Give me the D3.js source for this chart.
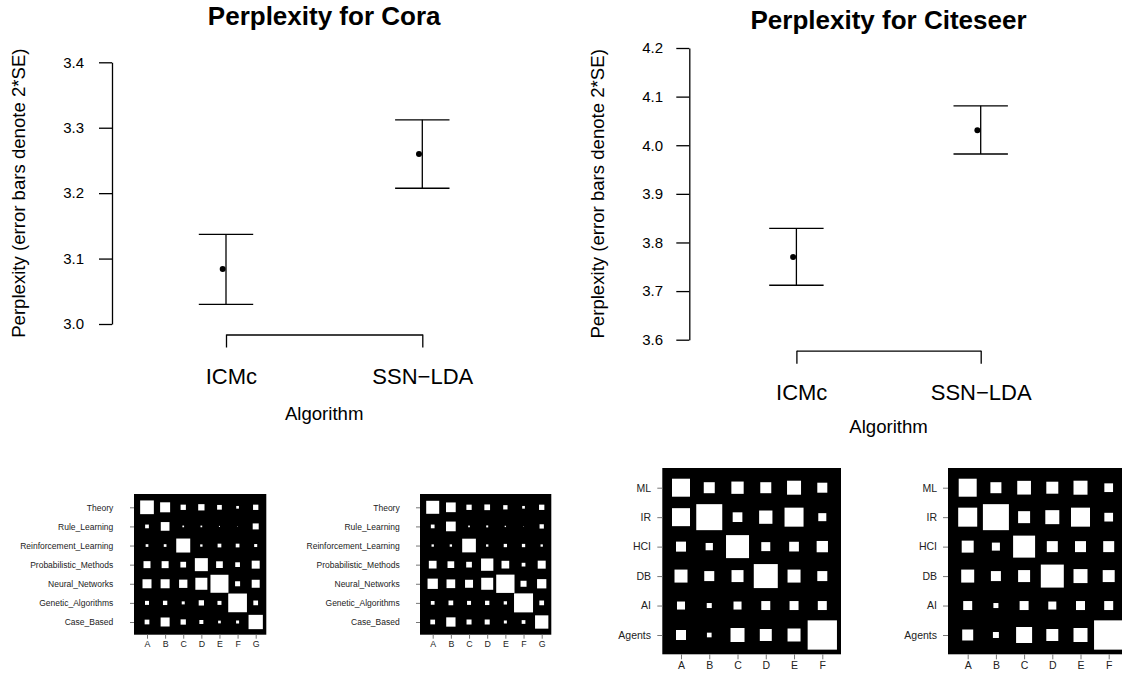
<!DOCTYPE html>
<html><head><meta charset="utf-8">
<script src="https://cdn.jsdelivr.net/npm/d3@7"></script>
<style>
html,body{margin:0;padding:0;background:#fff;}
svg{display:block;font-family:"Liberation Sans",Arial,Helvetica,sans-serif;}
</style></head><body>
<svg id="chart" width="1122" height="675"></svg>
<script>
// ---------- data ----------
const algorithms = ["ICMc", "SSN\u2212LDA"];

const coraMean  = [3.084, 3.260];
const coraLower = [3.030, 3.2075];
const coraUpper = [3.137, 3.312];
const coraTicks = [3.0, 3.1, 3.2, 3.3, 3.4];

const citeseerMean  = [3.770, 4.031];
const citeseerLower = [3.712, 3.982];
const citeseerUpper = [3.829, 4.081];
const citeseerTicks = [3.6, 3.7, 3.8, 3.9, 4.0, 4.1, 4.2];

const coraClasses = ["Theory", "Rule_Learning", "Reinforcement_Learning", "Probabilistic_Methods",
                     "Neural_Networks", "Genetic_Algorithms", "Case_Based"];
const coraLetters = ["A", "B", "C", "D", "E", "F", "G"];

const coraMatrixA = [
  [0.514, 0.274, 0.077, 0.109, 0.061, 0.020, 0.077],
  [0.038, 0.207, 0.008, 0.008, 0.003, 0.001, 0.099],
  [0.020, 0.020, 0.537, 0.015, 0.038, 0.038, 0.025],
  [0.134, 0.134, 0.089, 0.463, 0.123, 0.061, 0.175],
  [0.222, 0.222, 0.189, 0.395, 0.888, 0.069, 0.175],
  [0.044, 0.051, 0.025, 0.077, 0.044, 0.959, 0.061],
  [0.061, 0.222, 0.077, 0.044, 0.020, 0.025, 0.561]
];
const coraMatrixB = [
  [0.463, 0.258, 0.077, 0.089, 0.051, 0.020, 0.077],
  [0.038, 0.258, 0.008, 0.011, 0.005, 0.001, 0.051],
  [0.015, 0.015, 0.514, 0.015, 0.030, 0.030, 0.015],
  [0.163, 0.123, 0.089, 0.415, 0.163, 0.038, 0.175],
  [0.291, 0.207, 0.175, 0.395, 0.918, 0.099, 0.237],
  [0.038, 0.061, 0.044, 0.051, 0.030, 0.990, 0.061],
  [0.061, 0.237, 0.069, 0.069, 0.025, 0.038, 0.485]
];

const citeseerClasses = ["ML", "IR", "HCI", "DB", "AI", "Agents"];
const citeseerLetters = ["A", "B", "C", "D", "E", "F"];

const citeseerMatrixA = [
  [0.372, 0.139, 0.174, 0.139, 0.225, 0.115],
  [0.372, 0.777, 0.108, 0.203, 0.415, 0.074],
  [0.115, 0.061, 0.608, 0.093, 0.108, 0.147],
  [0.194, 0.115, 0.165, 0.662, 0.194, 0.115],
  [0.074, 0.029, 0.074, 0.093, 0.093, 0.093],
  [0.115, 0.025, 0.225, 0.165, 0.194, 0.986]
];
const citeseerMatrixB = [
  [0.372, 0.139, 0.216, 0.165, 0.225, 0.087],
  [0.415, 0.777, 0.165, 0.225, 0.415, 0.087],
  [0.165, 0.074, 0.556, 0.139, 0.139, 0.139],
  [0.194, 0.115, 0.165, 0.608, 0.225, 0.165],
  [0.093, 0.029, 0.093, 0.074, 0.093, 0.093],
  [0.139, 0.041, 0.294, 0.165, 0.225, 0.986]
];

// ---------- drawing ----------
const svg = d3.select("#chart");
const FONT = '"Liberation Sans",Arial,Helvetica,sans-serif';

function perplexityPlot(cfg) {
  const g = svg.append("g");
  const x = d3.scalePoint().domain(algorithms).range([cfg.x0, cfg.x1]).padding(0);
  const y = d3.scaleLinear().domain(cfg.domain).range([cfg.yBottom, cfg.yTop]);
  const mid = (cfg.x0 + cfg.x1) / 2;

  // y axis
  const ya = g.append("g").attr("transform", `translate(${cfg.axisX},0)`)
    .call(d3.axisLeft(y).tickValues(cfg.ticks).tickFormat(d3.format(".1f"))
      .tickSizeInner(13).tickSizeOuter(0).tickPadding(cfg.tickPad));
  ya.attr("font-family", FONT);
  ya.selectAll("text").attr("font-size", 15).attr("fill", "#000");
  ya.selectAll("line,path").attr("stroke", "#000").attr("stroke-width", 1.3);

  // x "bracket" axis
  const xa = g.append("g").attr("transform", `translate(0,${cfg.bracketY})`)
    .call(d3.axisBottom(x).tickSizeInner(13).tickSizeOuter(0).tickPadding(20.4));
  xa.attr("font-family", FONT);
  xa.selectAll("text").attr("font-size", 22).attr("fill", "#000")
    .attr("dx", d => d === algorithms[0] ? 4.8 : 0);
  xa.selectAll("line,path").attr("stroke", "#000").attr("stroke-width", 1.3);

  // error bars
  const idx = d3.range(algorithms.length);
  g.selectAll(".bar").data(idx).join("line")
    .attr("x1", i => x(algorithms[i])).attr("x2", i => x(algorithms[i]))
    .attr("y1", i => y(cfg.lower[i])).attr("y2", i => y(cfg.upper[i]))
    .attr("stroke", "#000").attr("stroke-width", 1.3);
  [cfg.lower, cfg.upper].forEach(arr => {
    g.selectAll(null).data(idx).join("line")
      .attr("x1", i => x(algorithms[i]) - 27.2).attr("x2", i => x(algorithms[i]) + 27.2)
      .attr("y1", i => y(arr[i])).attr("y2", i => y(arr[i]))
      .attr("stroke", "#000").attr("stroke-width", 1.3);
  });
  g.selectAll("circle").data(idx).join("circle")
    .attr("cx", i => x(algorithms[i]) - 3.3).attr("cy", i => y(cfg.mean[i]))
    .attr("r", 3).attr("fill", "#000");

  // title
  g.append("text").attr("x", mid).attr("y", cfg.titleY).attr("text-anchor", "middle")
    .attr("font-size", 26).attr("font-weight", "bold").attr("fill", "#000").text(cfg.title);
  // x label
  g.append("text").attr("x", mid).attr("y", cfg.xLabelY).attr("text-anchor", "middle")
    .attr("font-size", 18.6).attr("fill", "#000").text("Algorithm");
  // y label
  const ym = (cfg.yBottom + cfg.yTop) / 2;
  g.append("text").attr("transform", `translate(${cfg.yLabelX},${ym}) rotate(-90)`)
    .attr("text-anchor", "middle").attr("dy", "0.35em")
    .attr("font-size", 18.6).attr("fill", "#000").text("Perplexity (error bars denote 2*SE)");
}

perplexityPlot({
  title: "Perplexity for Cora", domain: [3.0, 3.4], ticks: coraTicks,
  mean: coraMean, lower: coraLower, upper: coraUpper,
  x0: 226, x1: 422.3, yBottom: 324, yTop: 62.3, axisX: 112, tickPad: 15,
  bracketY: 334.5, titleY: 25, xLabelY: 419.5, yLabelX: 18.5
});
perplexityPlot({
  title: "Perplexity for Citeseer", domain: [3.6, 4.2], ticks: citeseerTicks,
  mean: citeseerMean, lower: citeseerLower, upper: citeseerUpper,
  x0: 796.4, x1: 980.7, yBottom: 339.7, yTop: 48, axisX: 689.3, tickPad: 13.3,
  bracketY: 350.7, titleY: 28.5, xLabelY: 433, yLabelX: 597.5
});

function hinton(cfg) {
  const g = svg.append("g");
  const x = d3.scalePoint().domain(cfg.cols).range([cfg.x0 + cfg.padL, cfg.x1 - cfg.padR]);
  const y = d3.scalePoint().domain(cfg.rows).range([cfg.y0 + cfg.padT, cfg.y1 - cfg.padB]);
  const s = d3.scaleSqrt().domain([0, 1]).range([0, cfg.maxSide]);

  g.append("rect").attr("x", cfg.x0).attr("y", cfg.y0)
    .attr("width", cfg.x1 - cfg.x0).attr("height", cfg.y1 - cfg.y0).attr("fill", "#000");

  const cells = [];
  cfg.values.forEach((row, r) => row.forEach((v, c) => cells.push({ r: cfg.rows[r], c: cfg.cols[c], v })));
  g.selectAll(".cell").data(cells).join("rect")
    .attr("x", d => x(d.c) - s(d.v) / 2).attr("y", d => y(d.r) - s(d.v) / 2)
    .attr("width", d => s(d.v)).attr("height", d => s(d.v)).attr("fill", "#fff");

  const ra = g.append("g").attr("transform", `translate(${cfg.x0},0)`)
    .call(d3.axisLeft(y).tickSizeInner(cfg.tick).tickSizeOuter(0).tickPadding(cfg.rowPad));
  ra.select(".domain").remove();
  ra.attr("font-family", FONT);
  ra.selectAll("text").attr("font-size", cfg.rowFont).attr("fill", "#222");
  ra.selectAll("line").attr("stroke", "#777").attr("stroke-width", 1);

  const ca = g.append("g").attr("transform", `translate(0,${cfg.y1})`)
    .call(d3.axisBottom(x).tickSizeInner(cfg.tick).tickSizeOuter(0).tickPadding(cfg.colPad));
  ca.select(".domain").remove();
  ca.attr("font-family", FONT);
  ca.selectAll("text").attr("font-size", cfg.colFont).attr("fill", "#222");
  ca.selectAll("line").attr("stroke", "#777").attr("stroke-width", 1);
}

hinton({ rows: coraClasses, cols: coraLetters, values: coraMatrixA,
  x0: 134, x1: 266.3, y0: 494, y1: 634.7, padL: 13, padR: 10.6, padT: 13.3, padB: 12.7,
  maxSide: 19.1, tick: 4, rowPad: 16.7, colPad: 2.3, rowFont: 8.5, colFont: 8.8 });
hinton({ rows: coraClasses, cols: coraLetters, values: coraMatrixB,
  x0: 420, x1: 551.3, y0: 494, y1: 634.7, padL: 12.7, padR: 9.6, padT: 13.3, padB: 12.7,
  maxSide: 19.1, tick: 4, rowPad: 16.3, colPad: 2.3, rowFont: 8.5, colFont: 8.8 });
hinton({ rows: citeseerClasses, cols: citeseerLetters, values: citeseerMatrixA,
  x0: 662.3, x1: 841, y0: 468, y1: 654.3, padL: 18.7, padR: 18.7, padT: 19.7, padB: 19.3,
  maxSide: 29.5, tick: 5, rowPad: 6.3, colPad: 2, rowFont: 10.5, colFont: 10.5 });
hinton({ rows: citeseerClasses, cols: citeseerLetters, values: citeseerMatrixB,
  x0: 948, x1: 1126.7, y0: 468, y1: 654.3, padL: 19.7, padR: 18, padT: 19.7, padB: 19.3,
  maxSide: 29.5, tick: 5, rowPad: 6, colPad: 2, rowFont: 10.5, colFont: 10.5 });
</script>
</body></html>
